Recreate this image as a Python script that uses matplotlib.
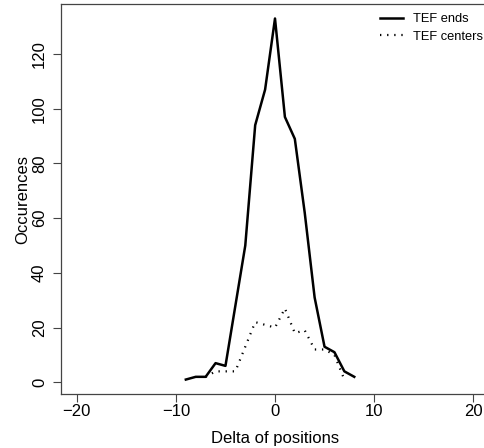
import matplotlib
matplotlib.use("Agg")
import matplotlib.pyplot as plt

plt.rcParams['font.family'] = ['Liberation Sans', 'DejaVu Sans']

# delta of positions
delta_ends = [-9, -8, -7, -6, -5, -4, -3, -2, -1, 0, 1, 2, 3, 4, 5, 6, 7, 8]
tef_ends = [1, 2, 2, 7, 6, 28, 50, 94, 107, 133, 97, 89, 62, 31, 13, 11, 4, 2]

delta_centers = [-7, -6, -5, -4, -3, -2, -1, 0, 1, 2, 3, 4, 5, 6, 7]
tef_centers = [2, 4, 4, 4, 13, 22, 21, 20, 27, 18, 19, 12, 12, 10, 1]

x_ticks = [-20, -10, 0, 10, 20]
y_ticks = [0, 20, 40, 60, 80, 100, 120]

fig = plt.figure(figsize=(4.84, 4.48), dpi=100)
ax = fig.add_axes([61 / 484, 54 / 448, 428 / 484, 390 / 448])

ax.plot(delta_ends, tef_ends, color="black", lw=1.8, label="TEF ends")
ax.plot(delta_centers, tef_centers, color="black", lw=1.6,
        linestyle=(0, (0.6, 2.6)), label="TEF centers")

ax.set_xlim(-21.6, 21.6)
ax.set_ylim(-4.28, 138.3)
ax.set_xticks(x_ticks)
ax.set_yticks(y_ticks)
ax.set_yticklabels([str(v) for v in y_ticks], rotation=90, va="center")

ax.tick_params(axis="both", direction="out", length=6, width=0.8,
               labelsize=12, color="#444444")
ax.tick_params(axis="x", pad=1)
ax.tick_params(axis="y", pad=4)
for s in ax.spines.values():
    s.set_linewidth(0.9)
    s.set_color("#444444")

ax.set_xlabel("Delta of positions", fontsize=12, labelpad=9)
ax.set_ylabel("Occurences", fontsize=12, labelpad=1)

ax.legend(loc="upper left", bbox_to_anchor=(0.733, 0.99), frameon=False,
          fontsize=9.3, handlelength=1.8, handletextpad=0.8,
          labelspacing=0.45, borderaxespad=0)

fig.savefig("out.png", dpi=100)
